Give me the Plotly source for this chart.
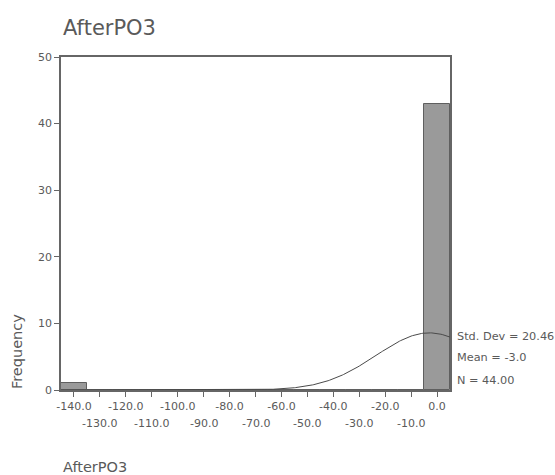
import math
import plotly.graph_objects as go

# ---- data ----
bin_centers = [-140, -130, -120, -110, -100, -90, -80, -70, -60, -50, -40, -30, -20, -10, 0]
counts = [1, 0, 0, 0, 0, 0, 0, 0, 0, 0, 0, 0, 0, 0, 43]
tick_row1 = [-140, -120, -100, -80, -60, -40, -20, 0]
tick_row2 = [-130, -110, -90, -70, -50, -30, -10]
y_ticks = [0, 10, 20, 30, 40, 50]
std_dev = 20.46
mean = -3.0
n_obs = 44
bin_width = 10
title = "AfterPO3"

# normal curve defined by the reported statistics
curve_x = [-145 + i * 0.5 for i in range(301)]
scale = n_obs * bin_width / (std_dev * math.sqrt(2 * math.pi))
curve_y = [scale * math.exp(-0.5 * ((v - mean) / std_dev) ** 2) for v in curve_x]

FONT = "DejaVu Sans"
TXT = "#5a5a5a"

fig = go.Figure()
fig.add_trace(go.Bar(
    x=bin_centers, y=counts, width=bin_width,
    marker=dict(color="#9a9a9a", line=dict(color="#5f5f5f", width=1)),
    showlegend=False, hoverinfo="skip"))
fig.add_trace(go.Scatter(
    x=curve_x, y=curve_y, mode="lines",
    line=dict(color="#4a4a4a", width=1), showlegend=False, hoverinfo="skip"))

fig.update_xaxes(
    range=[-145, 5], tickvals=bin_centers,
    ticktext=[f"{v:.1f}" if v in tick_row1 else "" for v in bin_centers],
    ticks="outside", ticklen=5, tickcolor="#666", tickwidth=1,
    showline=True, linecolor="#666", linewidth=1.5, mirror=True,
    showgrid=False, zeroline=False,
    tickfont=dict(family=FONT, size=11, color=TXT))
fig.update_yaxes(
    range=[0, 50], tickvals=y_ticks,
    ticks="outside", ticklen=5, tickcolor="#666", tickwidth=1,
    showline=True, linecolor="#666", linewidth=1.5, mirror=True,
    showgrid=False, zeroline=False,
    tickfont=dict(family=FONT, size=11, color=TXT))

ann = []
for v in tick_row2:
    ann.append(dict(x=v, y=-0.102, xref="x", yref="paper", text=f"{v:.1f}",
                    showarrow=False, xanchor="center", yanchor="middle",
                    font=dict(family=FONT, size=11, color=TXT)))
ann.append(dict(x=0, y=1.087, xref="paper", yref="paper", text=title,
                showarrow=False, xanchor="left", yanchor="middle",
                font=dict(family=FONT, size=21, color=TXT)))
ann.append(dict(x=-0.113, y=0.114, xref="paper", yref="paper", text="Frequency",
                showarrow=False, textangle=-90, xanchor="center", yanchor="middle",
                font=dict(family=FONT, size=14.5, color=TXT)))
ann.append(dict(x=0, y=-0.23, xref="paper", yref="paper", text=title,
                showarrow=False, xanchor="left", yanchor="middle",
                font=dict(family=FONT, size=14.5, color=TXT)))
stats = [f"Std. Dev = {std_dev:.2f}", f"Mean = {mean:.1f}", f"N = {n_obs:.2f}"]
for txt, yy in zip(stats, [0.160, 0.097, 0.030]):
    ann.append(dict(x=1.013, y=yy, xref="paper", yref="paper", text=txt,
                    showarrow=False, xanchor="left", yanchor="middle",
                    font=dict(family=FONT, size=11.3, color=TXT)))

fig.update_layout(
    width=555, height=475,
    margin=dict(l=61, r=105, t=57, b=85),
    paper_bgcolor="white", plot_bgcolor="white",
    bargap=0, annotations=ann)

fig.write_html("out.html")
